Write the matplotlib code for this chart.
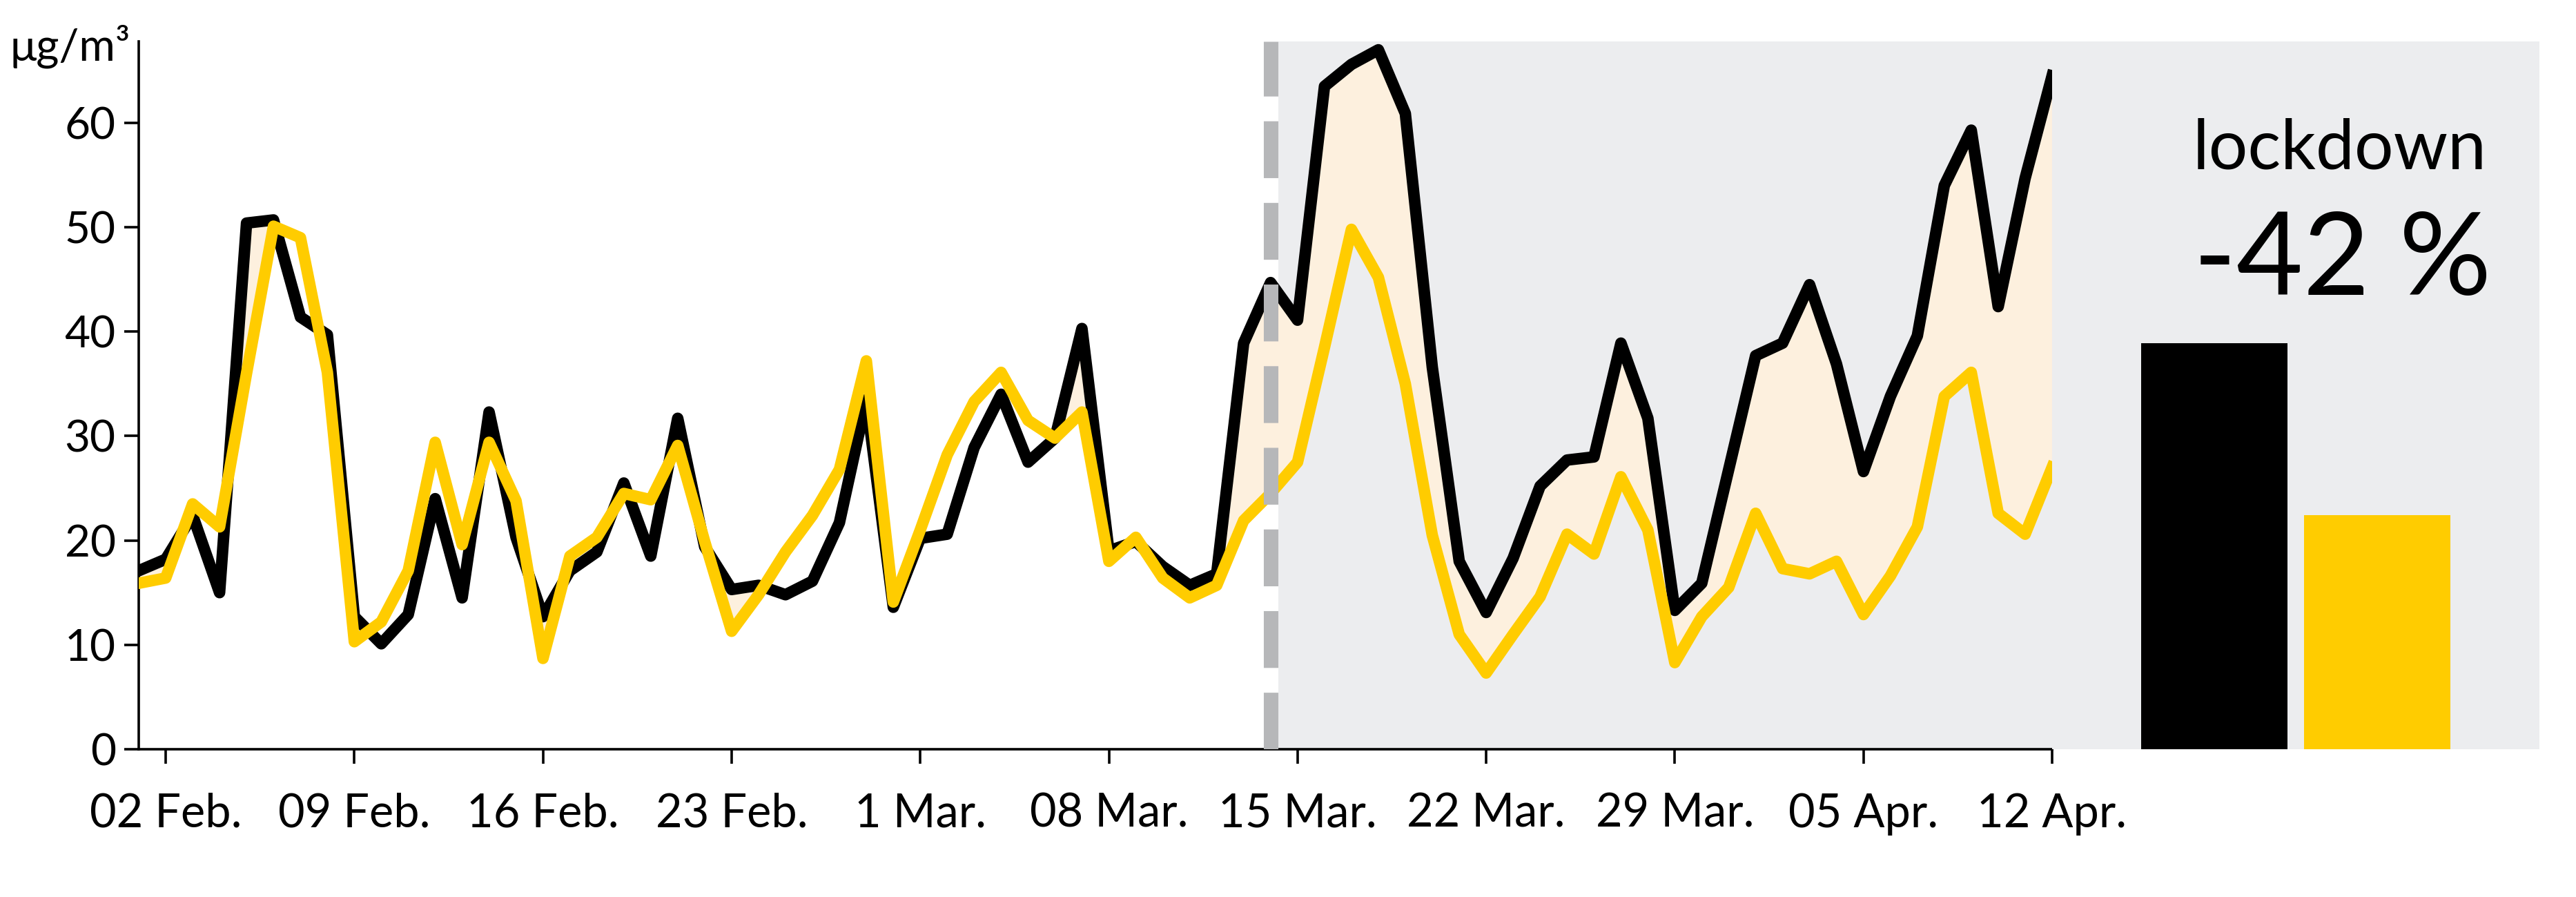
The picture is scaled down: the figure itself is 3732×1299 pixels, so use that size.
import numpy as np
import pandas as pd
import matplotlib
matplotlib.use("Agg")
import matplotlib.pyplot as plt

plt.rcParams['font.family'] = ['Lato', 'DejaVu Sans']

# daily values, 1 Feb - 12 Apr 2020 (µg/m³)
dates = pd.date_range('2020-02-01', '2020-04-12', freq='D')
black_vals = [17.1, 18.2, 22.4, 15.0, 50.4, 50.7, 41.4, 39.7, 12.7, 10.1,
              12.9, 24.0, 14.5, 32.3, 20.3, 12.7, 17.1, 18.9, 25.5, 18.5,
              31.7, 19.4, 15.3, 15.7, 14.8, 16.1, 21.7, 33.5, 13.6, 20.2,
              20.6, 28.9, 34.0, 27.5, 29.8, 40.3, 19.0, 19.9, 17.5, 15.7,
              16.8, 38.9, 44.7, 41.1, 63.5, 65.6, 67.0, 60.9, 36.6, 18.0,
              13.1, 18.3, 25.2, 27.7, 28.0, 38.9, 31.7, 13.3, 15.9, 26.8,
              37.7, 38.9, 44.5, 36.9, 26.6, 33.8, 39.6, 54.0, 59.3, 42.4,
              54.7, 64.5]
yellow_vals = [15.9, 16.4, 23.5, 21.3, 36.0, 50.1, 49.0, 36.1, 10.3, 12.2,
               17.1, 29.4, 19.6, 29.4, 23.8, 8.7, 18.5, 20.3, 24.5, 23.9,
               29.1, 19.9, 11.3, 14.8, 18.9, 22.4, 26.8, 37.2, 14.1, 21.0,
               28.2, 33.3, 36.1, 31.5, 29.8, 32.3, 18.0, 20.3, 16.4, 14.5,
               15.7, 21.9, 24.5, 27.5, 38.5, 49.8, 45.2, 35.0, 20.5, 11.0,
               7.3, 11.0, 14.6, 20.6, 18.7, 26.1, 21.0, 8.3, 12.7, 15.5,
               22.6, 17.3, 16.8, 18.0, 12.9, 16.6, 21.3, 33.8, 36.1, 22.6,
               20.6, 27.0]

lockdown_date = pd.Timestamp('2020-03-14')
tick_dates = pd.to_datetime(['2020-02-02', '2020-02-09', '2020-02-16', '2020-02-23',
                             '2020-03-01', '2020-03-08', '2020-03-15', '2020-03-22',
                             '2020-03-29', '2020-04-05', '2020-04-12'])
tick_labels = ['02 Feb.', '09 Feb.', '16 Feb.', '23 Feb.', '1 Mar.', '08 Mar.',
               '15 Mar.', '22 Mar.', '29 Mar.', '05 Apr.', '12 Apr.']

bar_vals = [38.9, 22.4]
change_text = '-42 %'

BLACK = '#000000'
YELLOW = '#FFCC00'
FILL = '#FDF0DE'
GRAY_BG = '#ECEDEF'
DASH = '#B6B7B9'

fig = plt.figure(figsize=(18.66, 6.495), dpi=200)
ax = fig.add_axes([0.05386, 0.16474, 0.74276, 0.78907])
axb = fig.add_axes([0.79662, 0.16474, 0.18917, 0.78907])

black = np.array(black_vals)
yellow = np.array(yellow_vals)

# lockdown shading and marker
ax.axvspan(lockdown_date + pd.Timedelta(hours=7), dates[-1], color=GRAY_BG, lw=0, zorder=0)
ax.fill_between(dates, yellow, black, where=black > yellow, interpolate=True,
                color=FILL, lw=0, zorder=1)
ax.plot(dates, black, color=BLACK, lw=6.0, solid_joinstyle='round', zorder=3)
ax.plot(dates, yellow, color=YELLOW, lw=6.0, solid_joinstyle='round', zorder=4)
ax.axvline(lockdown_date, color=DASH, lw=7.6, dashes=(3.9, 1.7), zorder=5)

ax.set_xlim(dates[0], dates[-1])
ax.set_ylim(0, 67.8)
ax.set_yticks([0, 10, 20, 30, 40, 50, 60])
ax.set_xticks(tick_dates)
ax.set_xticklabels(tick_labels)
ax.spines['top'].set_visible(False)
ax.spines['right'].set_visible(False)
for s in ['left', 'bottom']:
    ax.spines[s].set_linewidth(1.3)
ax.tick_params(axis='y', length=7.5, width=1.3, pad=4.5, labelsize=23)
ax.tick_params(axis='x', length=7.5, width=1.3, pad=15, labelsize=24)

fig.text(0.004, 0.933, 'μg/m³', fontsize=23, ha='left', va='baseline')

# lockdown average bars
axb.set_facecolor(GRAY_BG)
axb.bar([0, 1], bar_vals, width=0.9, color=[BLACK, YELLOW])
axb.set_xlim(-1.0, 2.0)
axb.set_ylim(0, 67.8)
axb.axis('off')
axb.add_patch(plt.Rectangle((0, 0), 1, 1, transform=axb.transAxes, color=GRAY_BG, zorder=0))
axb.text(0.59, 55.6, 'lockdown', fontsize=36, ha='center', va='baseline',
         transform=axb.get_yaxis_transform())
axb.text(0.596, 43.5, change_text, fontsize=60, ha='center', va='baseline',
         transform=axb.get_yaxis_transform())

fig.savefig('out.png', dpi=200, facecolor='white')
